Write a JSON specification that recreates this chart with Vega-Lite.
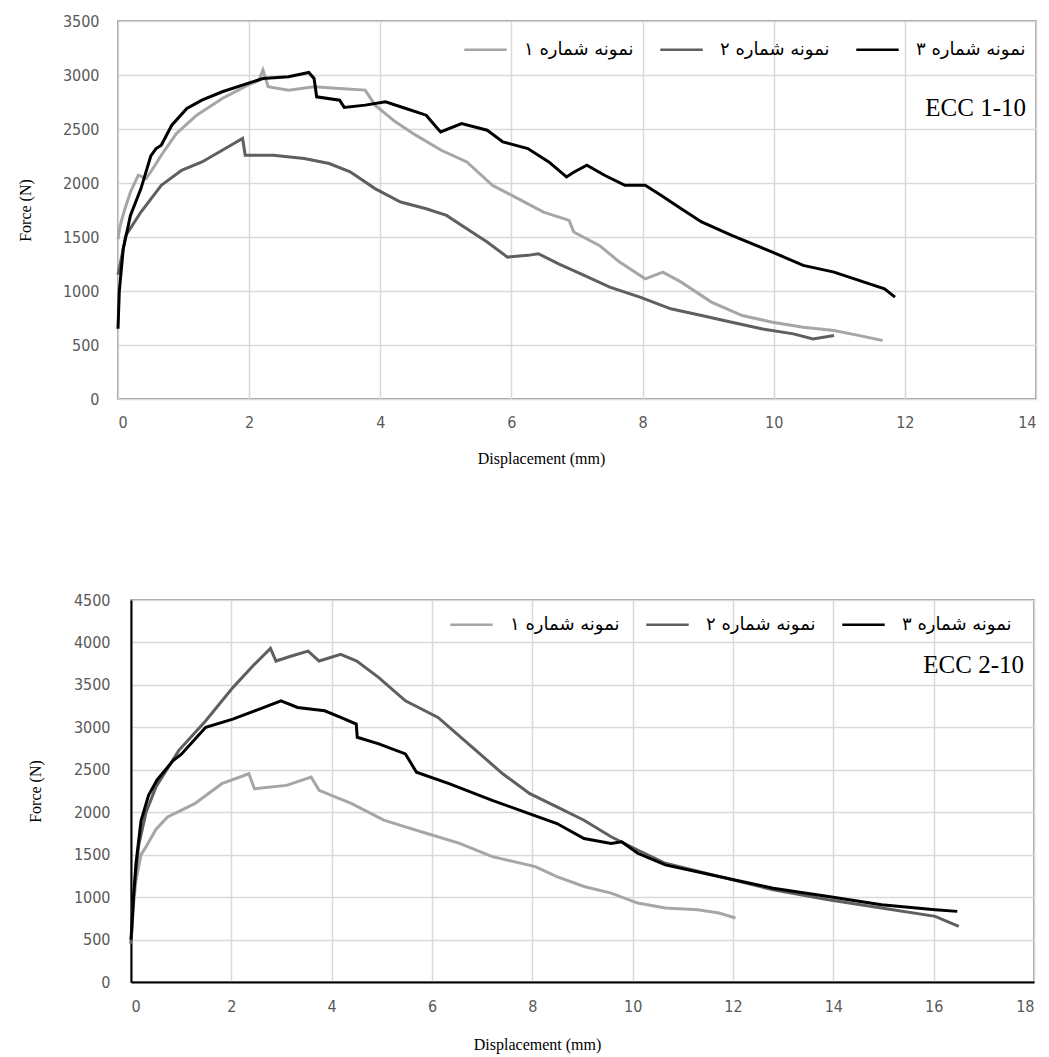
{
  "$schema": "https://vega.github.io/schema/vega-lite/v6.json",
  "background": "white",
  "padding": {"top": 12, "left": 16, "right": 8, "bottom": 5},
  "spacing": 201,
  "bounds": "flush",
  "datasets": {
    "ecc1": [
      {"s": "نمونه شماره ۱", "d": 0, "f": 1480}, {"s": "نمونه شماره ۱", "d": 0.03, "f": 1600}, {"s": "نمونه شماره ۱", "d": 0.1, "f": 1750}, {"s": "نمونه شماره ۱", "d": 0.19, "f": 1917}, {"s": "نمونه شماره ۱", "d": 0.31, "f": 2072}, {"s": "نمونه شماره ۱", "d": 0.43, "f": 2041}, {"s": "نمونه شماره ۱", "d": 0.55, "f": 2150}, {"s": "نمونه شماره ۱", "d": 0.66, "f": 2257}, {"s": "نمونه شماره ۱", "d": 0.89, "f": 2458}, {"s": "نمونه شماره ۱", "d": 1.2, "f": 2628}, {"s": "نمونه شماره ۱", "d": 1.59, "f": 2783}, {"s": "نمونه شماره ۱", "d": 1.98, "f": 2906}, {"s": "نمونه شماره ۱", "d": 2.15, "f": 2950}, {"s": "نمونه شماره ۱", "d": 2.21, "f": 3045}, {"s": "نمونه شماره ۱", "d": 2.29, "f": 2891}, {"s": "نمونه شماره ۱", "d": 2.6, "f": 2860}, {"s": "نمونه شماره ۱", "d": 2.99, "f": 2891}, {"s": "نمونه شماره ۱", "d": 3.38, "f": 2876}, {"s": "نمونه شماره ۱", "d": 3.77, "f": 2860}, {"s": "نمونه شماره ۱", "d": 3.92, "f": 2721}, {"s": "نمونه شماره ۱", "d": 4.23, "f": 2566}, {"s": "نمونه شماره ۱", "d": 4.54, "f": 2443}, {"s": "نمونه شماره ۱", "d": 4.93, "f": 2303}, {"s": "نمونه شماره ۱", "d": 5.32, "f": 2195}, {"s": "نمونه شماره ۱", "d": 5.71, "f": 1979}, {"s": "نمونه شماره ۱", "d": 6.1, "f": 1855}, {"s": "نمونه شماره ۱", "d": 6.49, "f": 1731}, {"s": "نمونه شماره ۱", "d": 6.88, "f": 1654}, {"s": "نمونه شماره ۱", "d": 6.95, "f": 1546}, {"s": "نمونه شماره ۱", "d": 7.34, "f": 1422}, {"s": "نمونه شماره ۱", "d": 7.65, "f": 1268}, {"s": "نمونه شماره ۱", "d": 8.04, "f": 1113}, {"s": "نمونه شماره ۱", "d": 8.31, "f": 1175}, {"s": "نمونه شماره ۱", "d": 8.59, "f": 1082}, {"s": "نمونه شماره ۱", "d": 9.05, "f": 897}, {"s": "نمونه شماره ۱", "d": 9.52, "f": 773}, {"s": "نمونه شماره ۱", "d": 9.98, "f": 711}, {"s": "نمونه شماره ۱", "d": 10.45, "f": 665}, {"s": "نمونه شماره ۱", "d": 10.92, "f": 634}, {"s": "نمونه شماره ۱", "d": 11.31, "f": 587}, {"s": "نمونه شماره ۱", "d": 11.66, "f": 541},
      {"s": "نمونه شماره ۲", "d": 0, "f": 1150}, {"s": "نمونه شماره ۲", "d": 0.05, "f": 1300}, {"s": "نمونه شماره ۲", "d": 0.12, "f": 1515}, {"s": "نمونه شماره ۲", "d": 0.35, "f": 1731}, {"s": "نمونه شماره ۲", "d": 0.66, "f": 1979}, {"s": "نمونه شماره ۲", "d": 0.97, "f": 2118}, {"s": "نمونه شماره ۲", "d": 1.28, "f": 2195}, {"s": "نمونه شماره ۲", "d": 1.59, "f": 2303}, {"s": "نمونه شماره ۲", "d": 1.9, "f": 2412}, {"s": "نمونه شماره ۲", "d": 1.94, "f": 2257}, {"s": "نمونه شماره ۲", "d": 2.37, "f": 2257}, {"s": "نمونه شماره ۲", "d": 2.84, "f": 2226}, {"s": "نمونه شماره ۲", "d": 3.22, "f": 2180}, {"s": "نمونه شماره ۲", "d": 3.54, "f": 2103}, {"s": "نمونه شماره ۲", "d": 3.92, "f": 1948}, {"s": "نمونه شماره ۲", "d": 4.31, "f": 1824}, {"s": "نمونه شماره ۲", "d": 4.7, "f": 1762}, {"s": "نمونه شماره ۲", "d": 5.01, "f": 1700}, {"s": "نمونه شماره ۲", "d": 5.32, "f": 1577}, {"s": "نمونه شماره ۲", "d": 5.63, "f": 1453}, {"s": "نمونه شماره ۲", "d": 5.94, "f": 1314}, {"s": "نمونه شماره ۲", "d": 6.25, "f": 1330}, {"s": "نمونه شماره ۲", "d": 6.41, "f": 1345}, {"s": "نمونه شماره ۲", "d": 6.72, "f": 1252}, {"s": "نمونه شماره ۲", "d": 7.11, "f": 1144}, {"s": "نمونه شماره ۲", "d": 7.5, "f": 1036}, {"s": "نمونه شماره ۲", "d": 7.96, "f": 943}, {"s": "نمونه شماره ۲", "d": 8.43, "f": 835}, {"s": "نمونه شماره ۲", "d": 8.9, "f": 773}, {"s": "نمونه شماره ۲", "d": 9.36, "f": 711}, {"s": "نمونه شماره ۲", "d": 9.83, "f": 649}, {"s": "نمونه شماره ۲", "d": 10.3, "f": 603}, {"s": "نمونه شماره ۲", "d": 10.6, "f": 556}, {"s": "نمونه شماره ۲", "d": 10.92, "f": 587},
      {"s": "نمونه شماره ۳", "d": 0, "f": 650}, {"s": "نمونه شماره ۳", "d": 0.02, "f": 1000}, {"s": "نمونه شماره ۳", "d": 0.08, "f": 1391}, {"s": "نمونه شماره ۳", "d": 0.19, "f": 1700}, {"s": "نمونه شماره ۳", "d": 0.35, "f": 1948}, {"s": "نمونه شماره ۳", "d": 0.5, "f": 2250}, {"s": "نمونه شماره ۳", "d": 0.58, "f": 2319}, {"s": "نمونه شماره ۳", "d": 0.66, "f": 2350}, {"s": "نمونه شماره ۳", "d": 0.82, "f": 2535}, {"s": "نمونه شماره ۳", "d": 1.05, "f": 2690}, {"s": "نمونه شماره ۳", "d": 1.28, "f": 2767}, {"s": "نمونه شماره ۳", "d": 1.59, "f": 2845}, {"s": "نمونه شماره ۳", "d": 1.98, "f": 2922}, {"s": "نمونه شماره ۳", "d": 2.21, "f": 2968}, {"s": "نمونه شماره ۳", "d": 2.6, "f": 2984}, {"s": "نمونه شماره ۳", "d": 2.91, "f": 3024}, {"s": "نمونه شماره ۳", "d": 2.99, "f": 2968}, {"s": "نمونه شماره ۳", "d": 3.03, "f": 2798}, {"s": "نمونه شماره ۳", "d": 3.38, "f": 2767}, {"s": "نمونه شماره ۳", "d": 3.45, "f": 2700}, {"s": "نمونه شماره ۳", "d": 3.77, "f": 2721}, {"s": "نمونه شماره ۳", "d": 4.08, "f": 2752}, {"s": "نمونه شماره ۳", "d": 4.39, "f": 2690}, {"s": "نمونه شماره ۳", "d": 4.7, "f": 2628}, {"s": "نمونه شماره ۳", "d": 4.85, "f": 2520}, {"s": "نمونه شماره ۳", "d": 4.92, "f": 2473}, {"s": "نمونه شماره ۳", "d": 5.24, "f": 2551}, {"s": "نمونه شماره ۳", "d": 5.63, "f": 2489}, {"s": "نمونه شماره ۳", "d": 5.87, "f": 2381}, {"s": "نمونه شماره ۳", "d": 6.25, "f": 2319}, {"s": "نمونه شماره ۳", "d": 6.57, "f": 2195}, {"s": "نمونه شماره ۳", "d": 6.84, "f": 2056}, {"s": "نمونه شماره ۳", "d": 6.95, "f": 2100}, {"s": "نمونه شماره ۳", "d": 7.15, "f": 2164}, {"s": "نمونه شماره ۳", "d": 7.42, "f": 2072}, {"s": "نمونه شماره ۳", "d": 7.73, "f": 1979}, {"s": "نمونه شماره ۳", "d": 8.04, "f": 1979}, {"s": "نمونه شماره ۳", "d": 8.28, "f": 1886}, {"s": "نمونه شماره ۳", "d": 8.59, "f": 1762}, {"s": "نمونه شماره ۳", "d": 8.9, "f": 1639}, {"s": "نمونه شماره ۳", "d": 9.36, "f": 1515}, {"s": "نمونه شماره ۳", "d": 9.98, "f": 1360}, {"s": "نمونه شماره ۳", "d": 10.45, "f": 1237}, {"s": "نمونه شماره ۳", "d": 10.92, "f": 1175}, {"s": "نمونه شماره ۳", "d": 11.38, "f": 1082}, {"s": "نمونه شماره ۳", "d": 11.69, "f": 1020}, {"s": "نمونه شماره ۳", "d": 11.85, "f": 943}
    ],
    "ecc2": [
      {"s": "نمونه شماره ۱", "d": 0, "f": 450}, {"s": "نمونه شماره ۱", "d": 0.05, "f": 900}, {"s": "نمونه شماره ۱", "d": 0.1, "f": 1200}, {"s": "نمونه شماره ۱", "d": 0.2, "f": 1500}, {"s": "نمونه شماره ۱", "d": 0.3, "f": 1594}, {"s": "نمونه شماره ۱", "d": 0.5, "f": 1800}, {"s": "نمونه شماره ۱", "d": 0.73, "f": 1945}, {"s": "نمونه شماره ۱", "d": 1.27, "f": 2101}, {"s": "نمونه شماره ۱", "d": 1.81, "f": 2336}, {"s": "نمونه شماره ۱", "d": 2.35, "f": 2453}, {"s": "نمونه شماره ۱", "d": 2.46, "f": 2277}, {"s": "نمونه شماره ۱", "d": 3.1, "f": 2316}, {"s": "نمونه شماره ۱", "d": 3.59, "f": 2414}, {"s": "نمونه شماره ۱", "d": 3.75, "f": 2258}, {"s": "نمونه شماره ۱", "d": 4.4, "f": 2101}, {"s": "نمونه شماره ۱", "d": 5.04, "f": 1906}, {"s": "نمونه شماره ۱", "d": 5.47, "f": 1828}, {"s": "نمونه شماره ۱", "d": 5.9, "f": 1750}, {"s": "نمونه شماره ۱", "d": 6.55, "f": 1633}, {"s": "نمونه شماره ۱", "d": 7.2, "f": 1477}, {"s": "نمونه شماره ۱", "d": 8.06, "f": 1359}, {"s": "نمونه شماره ۱", "d": 8.49, "f": 1242}, {"s": "نمونه شماره ۱", "d": 9.03, "f": 1125}, {"s": "نمونه شماره ۱", "d": 9.57, "f": 1047}, {"s": "نمونه شماره ۱", "d": 10.1, "f": 930}, {"s": "نمونه شماره ۱", "d": 10.65, "f": 871}, {"s": "نمونه شماره ۱", "d": 11.3, "f": 852}, {"s": "نمونه شماره ۱", "d": 11.72, "f": 813}, {"s": "نمونه شماره ۱", "d": 12.05, "f": 754},
      {"s": "نمونه شماره ۲", "d": 0, "f": 450}, {"s": "نمونه شماره ۲", "d": 0.05, "f": 1000}, {"s": "نمونه شماره ۲", "d": 0.15, "f": 1600}, {"s": "نمونه شماره ۲", "d": 0.3, "f": 2000}, {"s": "نمونه شماره ۲", "d": 0.5, "f": 2300}, {"s": "نمونه شماره ۲", "d": 0.84, "f": 2620}, {"s": "نمونه شماره ۲", "d": 0.95, "f": 2726}, {"s": "نمونه شماره ۲", "d": 1.49, "f": 3078}, {"s": "نمونه شماره ۲", "d": 2.03, "f": 3468}, {"s": "نمونه شماره ۲", "d": 2.46, "f": 3742}, {"s": "نمونه شماره ۲", "d": 2.78, "f": 3930}, {"s": "نمونه شماره ۲", "d": 2.89, "f": 3781}, {"s": "نمونه شماره ۲", "d": 3.2, "f": 3840}, {"s": "نمونه شماره ۲", "d": 3.53, "f": 3898}, {"s": "نمونه شماره ۲", "d": 3.75, "f": 3781}, {"s": "نمونه شماره ۲", "d": 4.18, "f": 3859}, {"s": "نمونه شماره ۲", "d": 4.5, "f": 3781}, {"s": "نمونه شماره ۲", "d": 4.94, "f": 3586}, {"s": "نمونه شماره ۲", "d": 5.47, "f": 3312}, {"s": "نمونه شماره ۲", "d": 6.12, "f": 3117}, {"s": "نمونه شماره ۲", "d": 6.88, "f": 2726}, {"s": "نمونه شماره ۲", "d": 7.41, "f": 2453}, {"s": "نمونه شماره ۲", "d": 7.95, "f": 2219}, {"s": "نمونه شماره ۲", "d": 8.49, "f": 2062}, {"s": "نمونه شماره ۲", "d": 9.03, "f": 1906}, {"s": "نمونه شماره ۲", "d": 9.57, "f": 1711}, {"s": "نمونه شماره ۲", "d": 10.1, "f": 1555}, {"s": "نمونه شماره ۲", "d": 10.65, "f": 1398}, {"s": "نمونه شماره ۲", "d": 11.72, "f": 1242}, {"s": "نمونه شماره ۲", "d": 12.8, "f": 1086}, {"s": "نمونه شماره ۲", "d": 13.9, "f": 969}, {"s": "نمونه شماره ۲", "d": 14.96, "f": 871}, {"s": "نمونه شماره ۲", "d": 16.03, "f": 773}, {"s": "نمونه شماره ۲", "d": 16.5, "f": 656},
      {"s": "نمونه شماره ۳", "d": 0, "f": 500}, {"s": "نمونه شماره ۳", "d": 0.05, "f": 1000}, {"s": "نمونه شماره ۳", "d": 0.1, "f": 1400}, {"s": "نمونه شماره ۳", "d": 0.2, "f": 1900}, {"s": "نمونه شماره ۳", "d": 0.35, "f": 2200}, {"s": "نمونه شماره ۳", "d": 0.52, "f": 2380}, {"s": "نمونه شماره ۳", "d": 0.84, "f": 2609}, {"s": "نمونه شماره ۳", "d": 1.0, "f": 2680}, {"s": "نمونه شماره ۳", "d": 1.49, "f": 3000}, {"s": "نمونه شماره ۳", "d": 2.03, "f": 3097}, {"s": "نمونه شماره ۳", "d": 2.56, "f": 3215}, {"s": "نمونه شماره ۳", "d": 2.99, "f": 3312}, {"s": "نمونه شماره ۳", "d": 3.32, "f": 3234}, {"s": "نمونه شماره ۳", "d": 3.86, "f": 3195}, {"s": "نمونه شماره ۳", "d": 4.18, "f": 3117}, {"s": "نمونه شماره ۳", "d": 4.49, "f": 3039}, {"s": "نمونه شماره ۳", "d": 4.51, "f": 2883}, {"s": "نمونه شماره ۳", "d": 4.94, "f": 2805}, {"s": "نمونه شماره ۳", "d": 5.47, "f": 2687}, {"s": "نمونه شماره ۳", "d": 5.69, "f": 2472}, {"s": "نمونه شماره ۳", "d": 6.34, "f": 2336}, {"s": "نمونه شماره ۳", "d": 7.2, "f": 2140}, {"s": "نمونه شماره ۳", "d": 7.84, "f": 2004}, {"s": "نمونه شماره ۳", "d": 8.49, "f": 1867}, {"s": "نمونه شماره ۳", "d": 9.03, "f": 1691}, {"s": "نمونه شماره ۳", "d": 9.57, "f": 1633}, {"s": "نمونه شماره ۳", "d": 9.78, "f": 1652}, {"s": "نمونه شماره ۳", "d": 10.1, "f": 1516}, {"s": "نمونه شماره ۳", "d": 10.65, "f": 1379}, {"s": "نمونه شماره ۳", "d": 11.72, "f": 1242}, {"s": "نمونه شماره ۳", "d": 12.8, "f": 1105}, {"s": "نمونه شماره ۳", "d": 13.9, "f": 1008}, {"s": "نمونه شماره ۳", "d": 14.96, "f": 910}, {"s": "نمونه شماره ۳", "d": 16.03, "f": 852}, {"s": "نمونه شماره ۳", "d": 16.47, "f": 832}
    ]
  },
  "vconcat": [
    {
      "width": 918,
      "height": 378,
      "view": {"stroke": "#7f7f7f", "strokeWidth": 1.5},
      "layer": [
        {
          "data": {"name": "ecc1"},
          "mark": {"type": "line", "strokeWidth": 3},
          "encoding": {
            "x": {"field": "d", "type": "quantitative", "scale": {"domain": [0, 14], "nice": false}, "axis": {"title": "Displacement  (mm)", "format": "d", "values": [0, 2, 4, 6, 8, 10, 12, 14], "titleX": 423, "labelPadding": 15, "titlePadding": 20}},
            "y": {"field": "f", "type": "quantitative", "scale": {"domain": [0, 3500], "nice": false}, "axis": {"title": "Force (N)", "format": "d", "values": [0, 500, 1000, 1500, 2000, 2500, 3000, 3500], "labelPadding": 19, "titlePadding": 29}},
            "color": {"field": "s", "type": "nominal", "scale": {"range": ["#a6a6a6", "#5f5f5f", "#000000"]}, "legend": {"title": null, "orient": "none", "direction": "horizontal", "legendX": 345, "legendY": 6}}
          }
        },
        {
          "data": {"values": [{"label": "ECC 1-10"}]},
          "mark": {"type": "text", "align": "right", "baseline": "middle", "font": "Liberation Serif", "fontSize": 25, "dx": -10},
          "encoding": {"x": {"datum": 14}, "y": {"datum": 2694}, "text": {"field": "label"}}
        }
      ]
    },
    {
      "hconcat": [
        {
          "width": 13,
          "height": 382,
          "view": {"stroke": null},
          "data": {"values": []},
          "mark": {"type": "point", "opacity": 0},
          "encoding": {}
        },
        {
          "width": 903,
          "height": 382,
          "view": {"stroke": "#7f7f7f", "strokeWidth": 1.5},
          "layer": [
            {
              "data": {"name": "ecc2"},
              "mark": {"type": "line", "strokeWidth": 3},
              "encoding": {
                "x": {"field": "d", "type": "quantitative", "scale": {"domain": [0, 18], "nice": false}, "axis": {"title": "Displacement  (mm)", "format": "d", "values": [0, 2, 4, 6, 8, 10, 12, 14, 16, 18], "titleX": 406, "labelPadding": 16, "titlePadding": 22, "domain": true, "domainColor": "#000000", "domainWidth": 2}},
                "y": {"field": "f", "type": "quantitative", "scale": {"domain": [0, 4500], "nice": false}, "axis": {"title": "Force (N)", "format": "d", "values": [0, 500, 1000, 1500, 2000, 2500, 3000, 3500, 4000, 4500], "labelPadding": 21, "titlePadding": 30, "domain": true, "domainColor": "#000000", "domainWidth": 2}},
                "color": {"field": "s", "type": "nominal", "scale": {"range": ["#a6a6a6", "#5f5f5f", "#000000"]}, "legend": {"title": null, "orient": "none", "direction": "horizontal", "legendX": 331, "legendY": 2}}
              }
            },
            {
              "data": {"values": [{"label": "ECC 2-10"}]},
              "mark": {"type": "text", "align": "right", "baseline": "middle", "font": "Liberation Serif", "fontSize": 25, "dx": -10},
              "encoding": {"x": {"datum": 18}, "y": {"datum": 3730}, "text": {"field": "label"}}
            }
          ]
        }
      ],
      "spacing": 0,
      "bounds": "flush"
    }
  ],
  "resolve": {"scale": {"color": "independent"}},
  "config": {
    "axis": {
      "domain": false,
      "ticks": false,
      "grid": true,
      "gridColor": "#d9d9d9",
      "gridWidth": 1.5,
      "labelFont": "Liberation Sans Narrow, DejaVu Sans Condensed, sans-serif",
      "labelFontSize": 16,
      "labelColor": "#595959",
      "titleFont": "Liberation Serif",
      "titleFontSize": 16,
      "titleFontWeight": "normal",
      "titleColor": "#000000"
    },
    "legend": {
      "symbolType": "stroke",
      "symbolSize": 1800,
      "symbolStrokeWidth": 2.5,
      "labelFont": "DejaVu Sans",
      "labelFontSize": 18,
      "labelColor": "#000000",
      "labelOffset": 16,
      "columnPadding": 21,
      "labelLimit": 300
    }
  }
}
